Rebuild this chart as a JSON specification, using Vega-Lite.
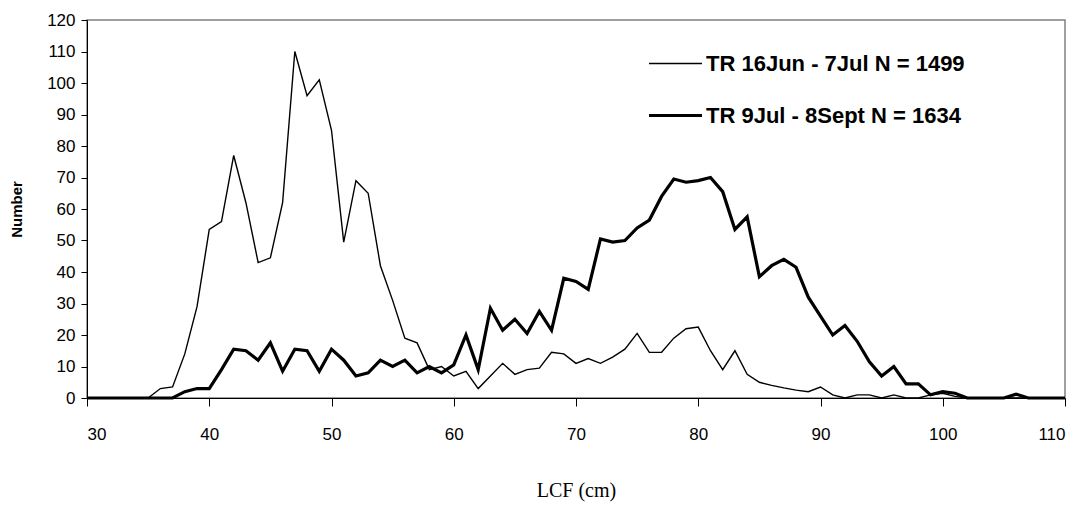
{
"$schema":"https://vega.github.io/schema/vega-lite/v6.json",
"width":978,"height":378,
"autosize":{"type":"none"},
"padding":{"left":87,"top":20,"right":24,"bottom":119},
"background":"white",
"config":{"view":{"stroke":"#808080","strokeWidth":1.5},"font":"Liberation Sans"},
"data":{"values":[
{"x":30,"a":0,"b":0},{"x":31,"a":0,"b":0},{"x":32,"a":0,"b":0},{"x":33,"a":0,"b":0},{"x":34,"a":0,"b":0},{"x":35,"a":0,"b":0},
{"x":36,"a":3,"b":0},{"x":37,"a":3.5,"b":0},{"x":38,"a":14,"b":2},{"x":39,"a":29,"b":3},{"x":40,"a":53.5,"b":3},
{"x":41,"a":56,"b":9},{"x":42,"a":77,"b":15.5},{"x":43,"a":62,"b":15},{"x":44,"a":43,"b":12},{"x":45,"a":44.5,"b":17.5},
{"x":46,"a":62,"b":8.5},{"x":47,"a":110,"b":15.5},{"x":48,"a":96,"b":15},{"x":49,"a":101,"b":8.5},{"x":50,"a":85,"b":15.5},
{"x":51,"a":49.5,"b":12},{"x":52,"a":69,"b":7},{"x":53,"a":65,"b":8},{"x":54,"a":42,"b":12},{"x":55,"a":31,"b":10},
{"x":56,"a":19,"b":12},{"x":57,"a":17.5,"b":8},{"x":58,"a":9,"b":10},{"x":59,"a":10,"b":8},{"x":60,"a":7,"b":10.5},
{"x":61,"a":8.5,"b":20},{"x":62,"a":3,"b":9},{"x":63,"a":7,"b":28.5},{"x":64,"a":11,"b":21.5},{"x":65,"a":7.5,"b":25},
{"x":66,"a":9,"b":20.5},{"x":67,"a":9.5,"b":27.5},{"x":68,"a":14.5,"b":21.5},{"x":69,"a":14,"b":38},{"x":70,"a":11,"b":37},
{"x":71,"a":12.5,"b":34.5},{"x":72,"a":11,"b":50.5},{"x":73,"a":13,"b":49.5},{"x":74,"a":15.5,"b":50},{"x":75,"a":20.5,"b":54},
{"x":76,"a":14.5,"b":56.5},{"x":77,"a":14.5,"b":64},{"x":78,"a":19,"b":69.5},{"x":79,"a":22,"b":68.5},{"x":80,"a":22.5,"b":69},
{"x":81,"a":15,"b":70},{"x":82,"a":9,"b":65.5},{"x":83,"a":15,"b":53.5},{"x":84,"a":7.5,"b":57.5},{"x":85,"a":5,"b":38.5},
{"x":86,"a":4,"b":42},{"x":87,"a":3.2,"b":44},{"x":88,"a":2.5,"b":41.5},{"x":89,"a":2,"b":32},{"x":90,"a":3.5,"b":26},
{"x":91,"a":1,"b":20},{"x":92,"a":0,"b":23},{"x":93,"a":1,"b":18},{"x":94,"a":1,"b":11.5},{"x":95,"a":0,"b":7},
{"x":96,"a":1,"b":10},{"x":97,"a":0,"b":4.5},{"x":98,"a":0,"b":4.5},{"x":99,"a":1,"b":1},{"x":100,"a":1.5,"b":2},
{"x":101,"a":0.5,"b":1.5},{"x":102,"a":0,"b":0},{"x":103,"a":0,"b":0},{"x":104,"a":0,"b":0},{"x":105,"a":0,"b":0},
{"x":106,"a":0,"b":1.2},{"x":107,"a":0,"b":0},{"x":108,"a":0,"b":0},{"x":109,"a":0,"b":0},{"x":110,"a":0,"b":0}
]},
"transform":[{"fold":["a","b"],"as":["s","v"]},
{"calculate":"datum.s=='a'?'TR 16Jun - 7Jul N = 1499':'TR 9Jul - 8Sept N = 1634'","as":"series"}],
"mark":{"type":"line","color":"black","strokeJoin":"miter"},
"encoding":{
"x":{"field":"x","type":"quantitative","scale":{"domain":[30,110],"nice":false,"zero":false},
"axis":{"values":[30,40,50,60,70,80,90,100,110],"grid":false,"title":"LCF (cm)","titleFont":"Liberation Serif","titleFontSize":20,"titleFontWeight":"normal","titlePadding":38,"labelFontSize":17,"labelColor":"black","domainColor":"black","tickColor":"black","tickSize":8,"labelPadding":20}},
"y":{"field":"v","type":"quantitative","scale":{"domain":[0,120],"nice":false},
"axis":{"values":[0,10,20,30,40,50,60,70,80,90,100,110,120],"grid":false,"title":"Number","titleFontSize":15,"titleFontWeight":"bold","titlePadding":22,"labelFontSize":17,"labelColor":"black","domainColor":"black","tickColor":"black","tickSize":6,"labelPadding":6}},
"strokeWidth":{"field":"series","type":"nominal","scale":{"domain":["TR 16Jun - 7Jul N = 1499","TR 9Jul - 8Sept N = 1634"],"range":[1.4,3.2]},
"legend":{"orient":"none","legendX":560,"legendY":16,"title":null,"symbolType":"stroke","symbolSize":2800,"symbolStrokeColor":"black","labelFontSize":22,"labelFontWeight":"bold","labelColor":"black","rowPadding":12,"labelOffset":2,"labelLimit":450}}
}
}
